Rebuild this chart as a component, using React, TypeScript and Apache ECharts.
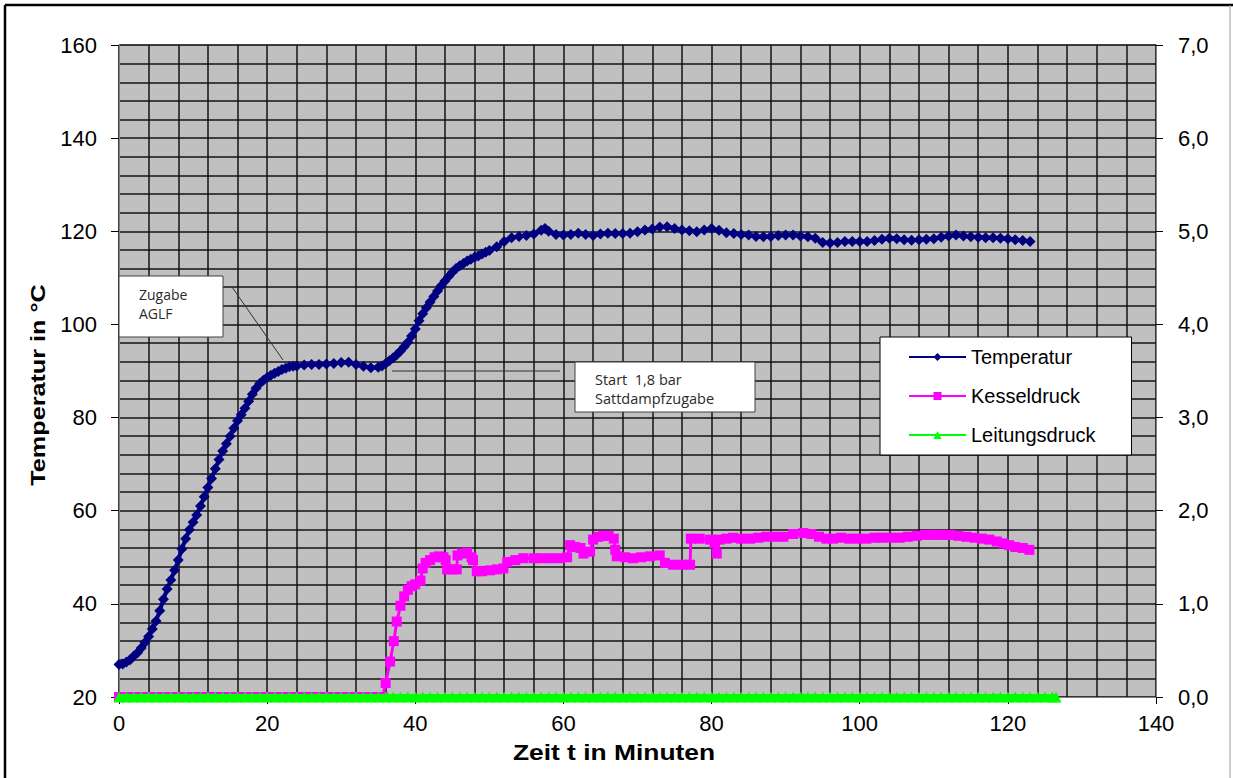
import React, { useEffect, useRef } from "react";
import * as echarts from "echarts";

// ---- Data ----
const xTicks = [0, 20, 40, 60, 80, 100, 120, 140];

const tempTime = [
  0, 0.5, 1, 1.5, 2, 2.5, 3, 3.5, 4, 4.5, 5, 5.5, 6, 6.5, 7, 7.5, 8, 8.5, 9, 9.5,
  10, 10.5, 11, 11.5, 12, 12.5, 13, 13.5, 14, 14.5, 15, 15.5, 16, 16.5, 17, 17.5, 18, 18.5, 19, 19.5,
  20, 20.5, 21, 21.5, 22, 22.5, 23, 23.5, 24, 25, 26, 27, 28, 29, 30, 31, 32, 33, 34, 35,
  35.5, 36, 36.5, 37, 37.5, 38, 38.5, 39, 39.5, 40, 40.5, 41, 41.5, 42, 42.5, 43, 43.5, 44, 44.5, 45,
  45.5, 46, 46.5, 47, 47.5, 48, 48.5, 49, 49.5, 50, 51, 52, 53, 54, 55, 56, 57, 57.5, 58, 59,
  60, 61, 62, 63, 64, 65, 66, 67, 68, 69, 70, 71, 72, 73, 74, 75, 76, 77, 78, 79,
  80, 81, 82, 83, 84, 85, 86, 87, 88, 89, 90, 91, 92, 93, 94, 95, 96, 97, 98, 99,
  100, 101, 102, 103, 104, 105, 106, 107, 108, 109, 110, 111, 112, 113, 114, 115, 116, 117, 118, 119,
  120, 121, 122, 123
];
const tempC = [
  27.0, 27.1, 27.5, 28.0, 28.8, 29.5, 30.5, 31.7, 33.0, 34.6, 36.3, 38.5, 41.0, 43.2, 45.1, 47.2, 49.4, 51.8, 54.0, 55.9,
  57.5, 59.1, 61.0, 63.0, 65.0, 66.9, 69.0, 71.0, 72.8, 74.4, 76.0, 77.7, 79.3, 80.6, 82.0, 83.5, 85.0, 86.3, 87.3, 88.0,
  88.6, 89.1, 89.5, 89.9, 90.3, 90.6, 90.9, 91.0, 91.1, 91.3, 91.4, 91.4, 91.5, 91.6, 91.8, 91.9, 91.4, 91.0, 90.7, 90.8,
  91.1, 91.6, 92.2, 92.8, 93.5, 94.3, 95.2, 96.2, 97.5, 99.0, 100.8, 102.3, 103.6, 104.8, 106.0, 107.2, 108.3, 109.3, 110.3, 111.2,
  112.0, 112.6, 113.1, 113.6, 114.0, 114.4, 114.7, 115.1, 115.5, 115.9, 116.7, 117.8, 118.6, 118.9, 119.1, 119.4, 120.2, 120.6, 120.0, 119.3,
  119.2, 119.3, 119.6, 119.3, 119.1, 119.4, 119.6, 119.5, 119.5, 119.6, 119.9, 120.3, 120.5, 120.9, 121.0, 120.6, 120.3, 120.1, 119.9, 120.3,
  120.6, 120.2, 119.7, 119.5, 119.3, 119.2, 118.9, 118.8, 118.9, 119.1, 119.2, 119.2, 119.0, 118.8, 118.5, 117.6, 117.5, 117.6, 117.8, 117.8,
  117.8, 117.8, 118.0, 118.3, 118.5, 118.4, 118.2, 118.1, 118.2, 118.3, 118.4, 118.7, 119.0, 119.2, 119.0, 118.8, 118.7, 118.6, 118.6, 118.5,
  118.4, 118.2, 118.0, 117.8
];

const kesselTime = [
  0, 1, 2, 3, 4, 5, 6, 7, 8, 9, 10, 11, 12, 13, 14, 15, 16, 17, 18, 19,
  20, 21, 22, 23, 24, 25, 26, 27, 28, 29, 30, 31, 32, 33, 34, 35, 35.6,
  36.0, 36.6, 37.1, 37.5, 38.0, 38.5, 39.0, 39.5, 40.0, 40.7, 41.0, 41.4, 42.0, 42.6, 43.2, 43.8, 44.1, 44.3, 45.0,
  45.6, 45.7, 46.3, 47.0, 47.6, 47.8, 48.3, 49.0, 50.1, 51.0, 51.9, 52.4, 53.5, 54.6, 56.0, 57.0, 58.2, 59.5, 60.5, 60.9,
  61.6, 62.3, 62.7, 63.6, 64.0, 64.7, 65.4, 66.1, 66.8, 67.0, 67.2, 68.3, 69.4, 70.5, 71.7, 73.0, 73.7, 74.8, 76.0, 77.1,
  77.2, 78.4, 79.8, 80.4, 80.7, 81.1, 82.0, 82.9, 84.0, 85.2, 86.3, 87.4, 88.5, 89.7, 91.0, 92.4, 93.5, 94.5, 95.5, 96.4,
  97.5, 98.6, 99.7, 100.9, 102.0, 103.0, 104.2, 105.4, 106.5, 107.7, 108.8, 109.9, 111.0, 112.2, 113.3, 114.4, 115.5, 116.5, 117.5, 118.5,
  119.4, 120.2, 121.0, 122.0, 122.9
];
const kesselBar = [
  0, 0, 0, 0, 0, 0, 0, 0, 0, 0, 0, 0, 0, 0, 0, 0, 0, 0, 0, 0,
  0, 0, 0, 0, 0, 0, 0, 0, 0, 0, 0, 0, 0, 0, 0, 0, 0,
  0.15, 0.38, 0.60, 0.81, 0.98, 1.08, 1.15, 1.19, 1.21, 1.25, 1.38, 1.44, 1.47, 1.50, 1.51, 1.50, 1.47, 1.37, 1.37,
  1.37, 1.52, 1.54, 1.55, 1.50, 1.47, 1.35, 1.35, 1.36, 1.37, 1.38, 1.45, 1.47, 1.49, 1.49, 1.49, 1.49, 1.49, 1.50, 1.63,
  1.61, 1.60, 1.54, 1.56, 1.69, 1.72, 1.73, 1.73, 1.70, 1.58, 1.51, 1.50, 1.49, 1.50, 1.51, 1.52, 1.44, 1.42, 1.42, 1.42,
  1.70, 1.70, 1.69, 1.65, 1.54, 1.69, 1.70, 1.71, 1.70, 1.70, 1.71, 1.72, 1.72, 1.72, 1.75, 1.76, 1.75, 1.72, 1.70, 1.70,
  1.71, 1.70, 1.70, 1.70, 1.71, 1.71, 1.71, 1.71, 1.72, 1.73, 1.74, 1.74, 1.74, 1.74, 1.73, 1.72, 1.71, 1.70, 1.69, 1.67,
  1.65, 1.63, 1.61, 1.60, 1.58
];

const leitungTime = [
  0, 1, 2, 3, 4, 5, 6, 7, 8, 9, 10, 11, 12, 13, 14, 15, 16, 17, 18, 19,
  20, 21, 22, 23, 24, 25, 26, 27, 28, 29, 30, 31, 32, 33, 34, 35, 36, 37, 38, 39,
  40, 41, 42, 43, 44, 45, 46, 47, 48, 49, 50, 51, 52, 53, 54, 55, 56, 57, 58, 59,
  60, 61, 62, 63, 64, 65, 66, 67, 68, 69, 70, 71, 72, 73, 74, 75, 76, 77, 78, 79,
  80, 81, 82, 83, 84, 85, 86, 87, 88, 89, 90, 91, 92, 93, 94, 95, 96, 97, 98, 99,
  100, 101, 102, 103, 104, 105, 106, 107, 108, 109, 110, 111, 112, 113, 114, 115, 116, 117, 118, 119,
  120, 121, 122, 123, 124, 125, 126, 126.5
];
const leitungBar = [
  0, 0, 0, 0, 0, 0, 0, 0, 0, 0, 0, 0, 0, 0, 0, 0, 0, 0, 0, 0,
  0, 0, 0, 0, 0, 0, 0, 0, 0, 0, 0, 0, 0, 0, 0, 0, 0, 0, 0, 0,
  0, 0, 0, 0, 0, 0, 0, 0, 0, 0, 0, 0, 0, 0, 0, 0, 0, 0, 0, 0,
  0, 0, 0, 0, 0, 0, 0, 0, 0, 0, 0, 0, 0, 0, 0, 0, 0, 0, 0, 0,
  0, 0, 0, 0, 0, 0, 0, 0, 0, 0, 0, 0, 0, 0, 0, 0, 0, 0, 0, 0,
  0, 0, 0, 0, 0, 0, 0, 0, 0, 0, 0, 0, 0, 0, 0, 0, 0, 0, 0, 0,
  0, 0, 0, 0, 0, 0, 0, 0
];

const seriesNames = ["Temperatur", "Kesseldruck", "Leitungsdruck"];
const annotation1 = ["Zugabe", "AGLF"];
const annotation2 = ["Start  1,8 bar", "Sattdampfzugabe"];

const pairs = (xs: number[], ys: number[]) => xs.map((x, i) => [x, ys[i]]);

const FONT = "'Liberation Sans', Arial, sans-serif";
const NOTE_FONT = "'Open Sans', 'Liberation Sans', sans-serif";

export default function App() {
  const ref = useRef<HTMLDivElement>(null);

  useEffect(() => {
    if (!ref.current) return;
    const chart = echarts.init(ref.current, undefined, { renderer: "svg" });
    const gridLine = { show: true, lineStyle: { color: "#141414", width: 1.5 } };
    chart.setOption({
      animation: false,
      backgroundColor: "#ffffff",
      grid: {
        left: 119,
        right: 77,
        top: 45,
        bottom: 81,
        show: true,
        backgroundColor: "#c0c0c0",
        borderColor: "#808080",
        borderWidth: 1,
      },
      legend: {
        orient: "vertical",
        left: 880,
        top: 337,
        data: seriesNames,
        itemWidth: 57,
        itemHeight: 10,
        itemGap: 19,
        padding: [10, 36, 10, 28],
        backgroundColor: "#ffffff",
        borderColor: "#000000",
        borderWidth: 1,
        selectedMode: false,
        lineStyle: { width: 2 },
        textStyle: { fontFamily: FONT, fontSize: 20, color: "#000" },
      },
      xAxis: {
        type: "value",
        min: 0,
        max: 140,
        interval: 20,
        axisLine: { show: true, onZero: false, lineStyle: { color: "#808080", width: 1 } },
        axisTick: { show: true, length: 7, lineStyle: { color: "#000" } },
        axisLabel: {
          margin: 15,
          fontFamily: FONT,
          fontSize: 22,
          color: "#000",
          customValues: xTicks,
        },
        splitLine: gridLine,
        minorTick: { show: false, splitNumber: 5 },
        minorSplitLine: gridLine,
      },
      yAxis: [
        {
          type: "value",
          min: 20,
          max: 160,
          interval: 20,
          axisLine: { show: true, lineStyle: { color: "#808080", width: 1 } },
          axisTick: { show: true, length: 8, lineStyle: { color: "#000" } },
          axisLabel: { margin: 22, fontFamily: FONT, fontSize: 22, color: "#000" },
          splitLine: gridLine,
          minorTick: { show: false, splitNumber: 5 },
          minorSplitLine: gridLine,
        },
        {
          type: "value",
          min: 0,
          max: 7,
          interval: 1,
          position: "right",
          axisLine: { show: true, lineStyle: { color: "#808080", width: 1 } },
          axisTick: { show: true, length: 7, lineStyle: { color: "#000" } },
          axisLabel: {
            margin: 22,
            fontFamily: FONT,
            fontSize: 22,
            color: "#000",
            formatter: (v: number) => v.toFixed(1).replace(".", ","),
          },
          splitLine: { show: false },
        },
      ],
      series: [
        {
          name: seriesNames[0],
          type: "line",
          yAxisIndex: 0,
          data: pairs(tempTime, tempC),
          symbol: "diamond",
          symbolSize: 11,
          color: "#000080",
          lineStyle: { width: 4, color: "#000080" },
          clip: false,
          z: 3,
        },
        {
          name: seriesNames[1],
          type: "line",
          yAxisIndex: 1,
          data: pairs(kesselTime, kesselBar),
          symbol: "rect",
          symbolSize: 10,
          color: "#ff00ff",
          lineStyle: { width: 3, color: "#ff00ff" },
          clip: false,
          z: 3,
        },
        {
          name: seriesNames[2],
          type: "line",
          yAxisIndex: 1,
          data: pairs(leitungTime, leitungBar),
          symbol: "triangle",
          symbolSize: 11,
          color: "#00ff00",
          lineStyle: { width: 6, color: "#00ff00" },
          clip: false,
          z: 4,
        },
      ],
      graphic: [
        // outer frame
        { type: "line", shape: { x1: 5, y1: 5, x2: 5, y2: 778 }, style: { stroke: "#000", lineWidth: 2.5 }, z: 100 },
        { type: "line", shape: { x1: 5, y1: 5, x2: 1233, y2: 5 }, style: { stroke: "#000", lineWidth: 2.5 }, z: 100 },
        { type: "line", shape: { x1: 1230, y1: 5, x2: 1230, y2: 778 }, style: { stroke: "#9a9a9a", lineWidth: 1 }, z: 100 },
        // axis titles
        {
          type: "text",
          x: 38,
          y: 385,
          rotation: Math.PI / 2,
          scaleX: 1.2,
          style: {
            text: "Temperatur in °C",
            font: `bold 21px ${FONT}`,
            fill: "#000",
            align: "center",
            verticalAlign: "middle",
          },
          z: 100,
        },
        {
          type: "text",
          x: 614,
          y: 752,
          scaleX: 1.2,
          style: {
            text: "Zeit t in Minuten",
            font: `bold 22px ${FONT}`,
            fill: "#000",
            align: "center",
            verticalAlign: "middle",
          },
          z: 100,
        },
        // annotation 1
        { type: "line", shape: { x1: 232, y1: 287, x2: 283, y2: 360 }, style: { stroke: "#303030", lineWidth: 1 }, z: 100 },
        {
          type: "rect",
          shape: { x: 119, y: 276, width: 104, height: 61 },
          style: { fill: "#fff", stroke: "#404040", lineWidth: 1 },
          z: 100,
        },
        {
          type: "text",
          x: 139,
          y: 294,
          style: { text: annotation1[0], font: `14px ${NOTE_FONT}`, fill: "#2a2a2a", verticalAlign: "middle" },
          z: 101,
        },
        {
          type: "text",
          x: 139,
          y: 313,
          style: { text: annotation1[1], font: `14px ${NOTE_FONT}`, fill: "#2a2a2a", verticalAlign: "middle" },
          z: 101,
        },
        // annotation 2
        { type: "line", shape: { x1: 392, y1: 371, x2: 560, y2: 371 }, style: { stroke: "#303030", lineWidth: 1 }, z: 100 },
        {
          type: "rect",
          shape: { x: 575, y: 362, width: 180, height: 50 },
          style: { fill: "#fff", stroke: "#404040", lineWidth: 1 },
          z: 100,
        },
        {
          type: "text",
          x: 595,
          y: 379,
          style: { text: annotation2[0], font: `14.5px ${NOTE_FONT}`, fill: "#2a2a2a", verticalAlign: "middle" },
          z: 101,
        },
        {
          type: "text",
          x: 595,
          y: 398,
          style: { text: annotation2[1], font: `14.5px ${NOTE_FONT}`, fill: "#2a2a2a", verticalAlign: "middle" },
          z: 101,
        },
      ],
    });
    return () => chart.dispose();
  }, []);

  return (
    <div
      ref={ref}
      style={{ position: "absolute", left: 0, top: 0, width: 1233, height: 778 }}
    />
  );
}
